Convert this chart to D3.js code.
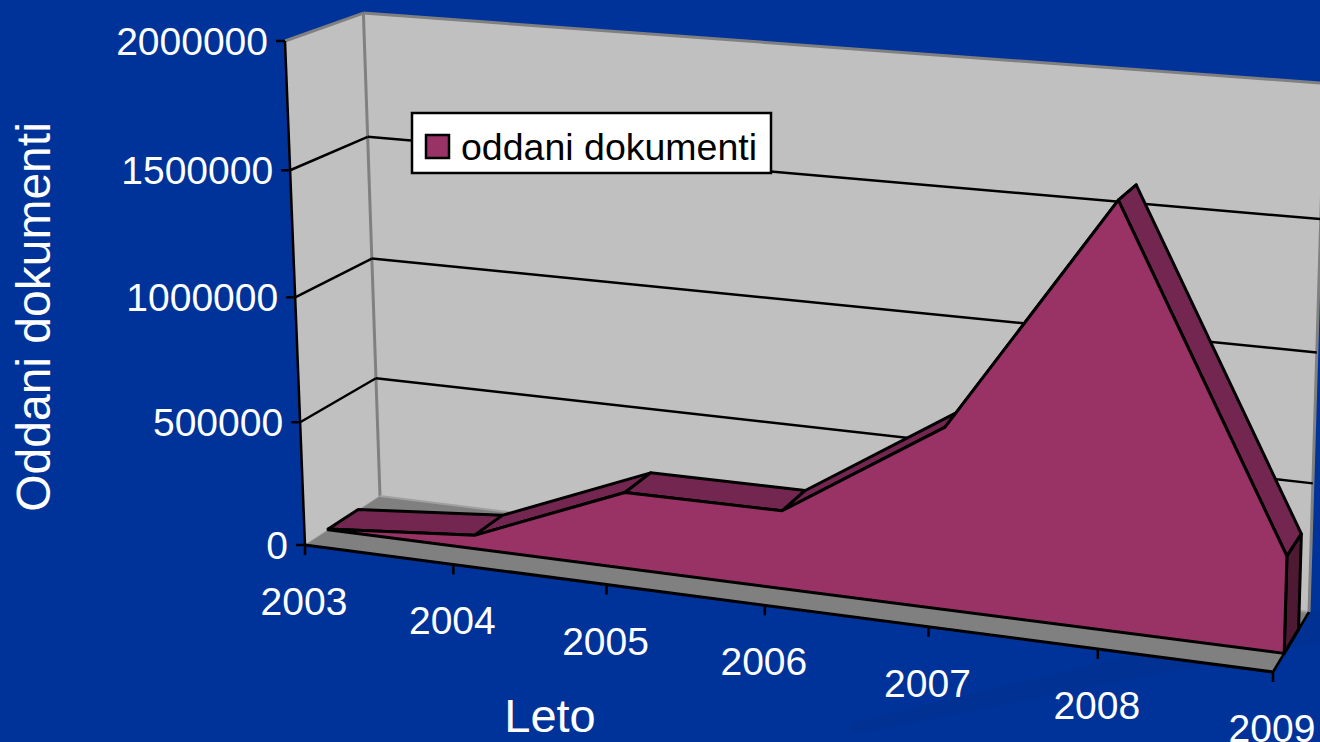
<!DOCTYPE html>
<html>
<head>
<meta charset="utf-8">
<script src="https://cdn.jsdelivr.net/npm/d3@7"></script>
<style>
  html, body { margin: 0; padding: 0; background: #003399; overflow: hidden; }
  text { font-family: "Liberation Sans", Arial, sans-serif; }
</style>
</head>
<body>
<script>
var years = ["2003", "2004", "2005", "2006", "2007", "2008", "2009"];
var documents = [3000, 55000, 305000, 308000, 706000, 1615000, 367000];
var valueTicks = [0, 500000, 1000000, 1500000, 2000000];
var seriesName = "oddani dokumenti";

var width = 1320, height = 742;

var svg = d3.select("body").append("svg")
    .attr("width", width)
    .attr("height", height);

// darker band of the slide background
svg.append("path")
    .attr("d", d3.line()([[850, 723], [1320, 610], [1320, 642], [850, 735]]) + "Z")
    .attr("fill", "#003193");

// plot box corners on screen (floor: A front-left, B front-right, C back-left, D back-right)
var A = [305, 545], B = [1273, 672], C = [380, 496], D = [1309, 612];
var E = [285, 41];
// the verticals of the box meet far below the picture
var V = [878, 14976];

// homography of the unit square onto the floor
var dx1 = B[0] - D[0], dx2 = C[0] - D[0], sx = A[0] - B[0] + D[0] - C[0];
var dy1 = B[1] - D[1], dy2 = C[1] - D[1], sy = A[1] - B[1] + D[1] - C[1];
var det = dx1 * dy2 - dx2 * dy1;
var gu = (sx * dy2 - dx2 * sy) / det;
var gd = (dx1 * sy - sx * dy1) / det;
var m = {
    xu: B[0] - A[0] + gu * B[0], xd: C[0] - A[0] + gd * C[0],
    yu: B[1] - A[1] + gu * B[1], yd: C[1] - A[1] + gd * C[1]
};
// height column, from the vanishing point and the top corner E
var gv = (A[1] - E[1]) / (E[1] - V[1]);
var vx = gv * V[0];
var vy = gv * V[1];

// u along years, d into the depth, v up
var project = function (u, d, v) {
    var w = 1 + gu * u + gd * d + gv * v;
    return [
        (A[0] + m.xu * u + m.xd * d + vx * v) / w,
        (A[1] + m.yu * u + m.yd * d + vy * v) / w
    ];
};

var x = d3.scalePoint().domain(years).range([0, 1]);
var y = d3.scaleLinear().domain([0, 2000000]).range([0, 1]);
var frontDepth = 0.3, backDepth = 0.7;

var line = d3.line();
var poly = function (pts) { return line(pts) + "Z"; };

// walls
svg.append("path")
    .attr("d", poly([project(0, 0, 0), project(0, 1, 0), project(0, 1, 1), project(0, 0, 1)]))
    .attr("fill", "#c0c0c0");
svg.append("path")
    .attr("d", poly([project(0, 1, 0), project(1, 1, 0), project(1, 1, 1), project(0, 1, 1)]))
    .attr("fill", "#c0c0c0");

// floor
svg.append("path")
    .attr("d", poly([project(0, 0, 0), project(1, 0, 0), project(1, 1, 0), project(0, 1, 0)]))
    .attr("fill", "#808080");

// wall edges
var edge = function (a, b, color, w) {
    svg.append("path")
        .attr("d", line([a, b]))
        .attr("stroke", color)
        .attr("stroke-width", w)
        .attr("fill", "none");
};
edge(project(0, 0, 1), project(0, 1, 1), "#808080", 3);
edge(project(0, 1, 1), project(1, 1, 1), "#808080", 3);
edge(project(0, 1, 0), project(0, 1, 1), "#808080", 3);
edge(project(1, 1, 0), project(1, 1, 1), "#808080", 3);
edge(project(0, 1, 0), project(1, 1, 0), "#a0a0a0", 2);
edge(project(0, 0, 0), project(0, 1, 0), "#a0a0a0", 1);

// gridlines on the two walls
valueTicks.slice(1, -1).forEach(function (t) {
    edge(project(0, 0, y(t)), project(0, 1, y(t)), "#000", 2.5);
    edge(project(0, 1, y(t)), project(1, 1, y(t)), "#000", 2.5);
});

// area: top surface pieces from back to front, then the end cap and the front face
var outline = { stroke: "#000", w: 3 };
var topFaces = [];
for (var i = 0; i < years.length - 1; i++) {
    topFaces.push([
        project(x(years[i]), frontDepth, y(documents[i])),
        project(x(years[i + 1]), frontDepth, y(documents[i + 1])),
        project(x(years[i + 1]), backDepth, y(documents[i + 1])),
        project(x(years[i]), backDepth, y(documents[i]))
    ]);
}
svg.selectAll(".top")
    .data(topFaces)
    .enter().append("path")
    .attr("class", "top")
    .attr("d", poly)
    .attr("fill", "#732650")
    .attr("stroke", outline.stroke)
    .attr("stroke-width", outline.w)
    .attr("stroke-linejoin", "round");

var lastValue = documents[documents.length - 1];
svg.append("path")
    .attr("d", poly([
        project(1, frontDepth, 0), project(1, backDepth, 0),
        project(1, backDepth, y(lastValue)), project(1, frontDepth, y(lastValue))
    ]))
    .attr("fill", "#4d1933")
    .attr("stroke", outline.stroke)
    .attr("stroke-width", outline.w)
    .attr("stroke-linejoin", "round");

var front = years.map(function (yr, i) { return project(x(yr), frontDepth, y(documents[i])); });
front.push(project(1, frontDepth, 0));
front.push(project(0, frontDepth, 0));
svg.append("path")
    .attr("d", poly(front))
    .attr("fill", "#993366")
    .attr("stroke", outline.stroke)
    .attr("stroke-width", outline.w)
    .attr("stroke-linejoin", "round");

// axes
edge(project(0, 0, 0), project(0, 0, 1), "#000", 2.5);
edge(project(0, 0, 0), project(1, 0, 0), "#000", 3);
edge(project(1, 0, 0), project(1, 1, 0), "#000", 2.5);

valueTicks.forEach(function (t) {
    var p = project(0, 0, y(t));
    edge([p[0] - 9, p[1]], p, "#000", 2.5);
    svg.append("text")
        .attr("x", p[0] - 17)
        .attr("y", p[1])
        .attr("dy", "0.35em")
        .attr("text-anchor", "end")
        .attr("font-size", 39)
        .attr("fill", "#fff")
        .text(t);
});

years.forEach(function (yr) {
    var p = project(x(yr), 0, 0);
    edge(p, [p[0], p[1] + 10], "#000", 2.5);
    svg.append("text")
        .attr("x", p[0] - 1)
        .attr("y", p[1] + 70)
        .attr("text-anchor", "middle")
        .attr("font-size", 39)
        .attr("fill", "#fff")
        .text(yr);
});

// axis titles
svg.append("text")
    .attr("transform", "translate(50,317) rotate(-90)")
    .attr("text-anchor", "middle")
    .attr("font-size", 48)
    .attr("fill", "#fff")
    .text("Oddani dokumenti");

svg.append("text")
    .attr("x", 550)
    .attr("y", 732)
    .attr("text-anchor", "middle")
    .attr("font-size", 47)
    .attr("fill", "#fff")
    .text("Leto");

// legend
var legend = svg.append("g").attr("transform", "translate(412,113)");
legend.append("rect")
    .attr("width", 359).attr("height", 60)
    .attr("fill", "#fff").attr("stroke", "#000").attr("stroke-width", 2.5);
legend.append("rect")
    .attr("x", 14).attr("y", 22).attr("width", 23).attr("height", 23)
    .attr("fill", "#993366").attr("stroke", "#000").attr("stroke-width", 2.5);
legend.append("text")
    .attr("x", 49).attr("y", 47)
    .attr("font-size", 37.5)
    .attr("fill", "#000")
    .text(seriesName);
</script>
</body>
</html>
